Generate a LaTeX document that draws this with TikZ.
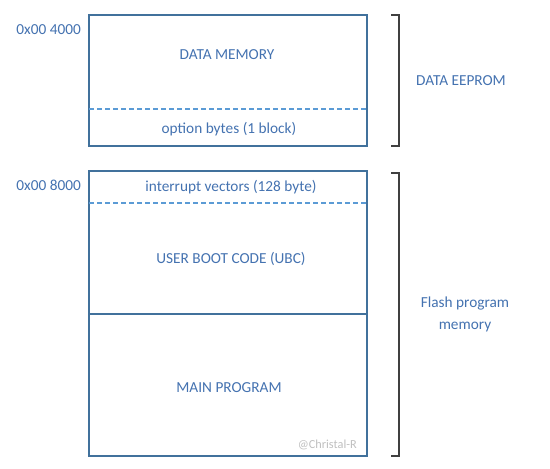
\documentclass[tikz,border=0pt]{standalone}
\usepackage{fontspec}
\setmainfont{Carlito}
\definecolor{boxc}{RGB}{65,113,156}
\definecolor{dashc}{RGB}{91,155,213}
\definecolor{txtc}{RGB}{68,114,176}
\definecolor{brc}{RGB}{64,64,64}
\begin{document}
\begin{tikzpicture}[x=1pt,y=-1pt,
  memblk/.style={draw=boxc,line width=1.2pt},
  sep/.style={draw=dashc,line width=1.2pt,dash pattern=on 5pt off 3pt},
  lbl/.style={text=txtc,font=\fontsize{15.3}{22}\selectfont,inner sep=0pt},
  brk/.style={draw=brc,line width=1.2pt}]
\useasboundingbox (0,0) rectangle (550,469);
% top block
\draw[memblk] (89,15) rectangle (367,146);
\coordinate (d1l) at (89,109); \coordinate (d1r) at (367,109);
\draw[sep] (d1l) -- (d1r);
% bottom block
\draw[memblk] (89,171) rectangle (367,456);
\coordinate (d2l) at (89,203); \coordinate (d2r) at (367,203);
\draw[sep] (d2l) -- (d2r);
\coordinate (s1l) at (89,314); \coordinate (s1r) at (367,314);
\draw[memblk] (s1l) -- (s1r);
% brackets
\draw[brk] (391,15) -- (399,15) -- (399,146) -- (391,146);
\draw[brk] (391,173) -- (399,173) -- (399,456) -- (391,456);
% labels
\node[lbl,anchor=east] (a1) at (81,30) {0x00 4000};
\node[lbl] (dm) at (227,55) {DATA MEMORY};
\node[lbl] (ob) at (229,129) {option bytes (1 block)};
\node[lbl] (de) at (461,81) {DATA EEPROM};
\node[lbl,anchor=east] (a2) at (81,185) {0x00 8000};
\node[lbl] (iv) at (231,187) {interrupt vectors (128 byte)};
\node[lbl] (ubc) at (231,259) {USER BOOT CODE (UBC)};
\node[lbl,align=center] (fp) at (465,314) {Flash program\\memory};
\node[lbl] (mp) at (229,388) {MAIN PROGRAM};
\node[text=gray!50,font=\fontsize{12.3}{14}\selectfont,inner sep=0pt,anchor=east] (wm) at (357,445) {@Christal-R};
\end{tikzpicture}
\end{document}
